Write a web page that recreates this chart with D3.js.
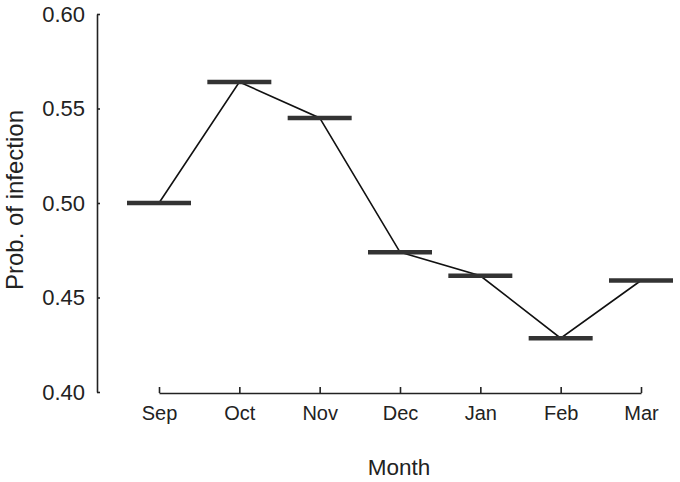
<!DOCTYPE html>
<html>
  <head>
    <meta charset="utf-8">
    <script src="https://d3js.org/d3.v7.min.js"></script>
    <style>
      body { margin: 0; background: #fff; }
      text { font-family: "Liberation Sans", Arial, sans-serif; fill: #222; }
    </style>
  </head>
<body>
  <script type="text/javascript">
    // chart data
    var months = ["Sep", "Oct", "Nov", "Dec", "Jan", "Feb", "Mar"];
    var probInfection = [0.500, 0.564, 0.545, 0.474, 0.4615, 0.4285, 0.459];
    var yTicks = [0.40, 0.45, 0.50, 0.55, 0.60];

    var width = 680, height = 482;
    var svg = d3.select("body").append("svg")
      .attr("width", width)
      .attr("height", height);

    // scales
    var x = d3.scalePoint().domain(months).range([159, 641]);
    var y = d3.scaleLinear().domain([0.40, 0.60]).range([392, 14]);

    // y axis (ticks pointing inward)
    var yAxis = svg.append("g")
      .attr("transform", "translate(97,0)")
      .call(d3.axisLeft(y).tickValues(yTicks).tickFormat(d3.format(".2f"))
        .tickSizeInner(-3).tickSizeOuter(0).tickPadding(12));
    yAxis.select(".domain").attr("stroke", "#222").attr("stroke-width", 1.6);
    yAxis.selectAll(".tick line").attr("stroke", "#222").attr("stroke-width", 1.6);
    yAxis.selectAll(".tick text").attr("font-size", 22).attr("fill", "#222")
      .attr("font-family", "Liberation Sans, Arial, sans-serif");

    // x axis (ticks pointing up)
    var xAxis = svg.append("g")
      .attr("transform", "translate(0,393)")
      .call(d3.axisBottom(x).tickSizeInner(-6).tickSizeOuter(0).tickPadding(13));
    xAxis.select(".domain").attr("stroke", "#222").attr("stroke-width", 1.6);
    xAxis.selectAll(".tick line").attr("stroke", "#222").attr("stroke-width", 1.6);
    xAxis.selectAll(".tick text").attr("font-size", 20).attr("fill", "#222")
      .attr("font-family", "Liberation Sans, Arial, sans-serif");

    // connecting line
    var line = d3.line()
      .x(function(d, i) { return x(months[i]); })
      .y(function(d) { return y(d); });
    svg.append("path")
      .datum(probInfection)
      .attr("d", line)
      .attr("fill", "none")
      .attr("stroke", "#111")
      .attr("stroke-width", 1.6);

    // horizontal bars at each mean
    svg.selectAll("line.bar")
      .data(probInfection)
      .enter()
      .append("line")
      .attr("class", "bar")
      .attr("x1", function(d, i) { return x(months[i]) - 32; })
      .attr("x2", function(d, i) { return x(months[i]) + 32; })
      .attr("y1", function(d) { return y(d); })
      .attr("y2", function(d) { return y(d); })
      .attr("stroke", "#333")
      .attr("stroke-width", 4.5);

    // axis titles
    svg.append("text")
      .attr("x", 399)
      .attr("y", 475)
      .attr("text-anchor", "middle")
      .attr("font-size", 22.5)
      .text("Month");
    svg.append("text")
      .attr("transform", "translate(23,200) rotate(-90)")
      .attr("text-anchor", "middle")
      .attr("font-size", 24)
      .text("Prob. of infection");
  </script>
</body>
</html>
